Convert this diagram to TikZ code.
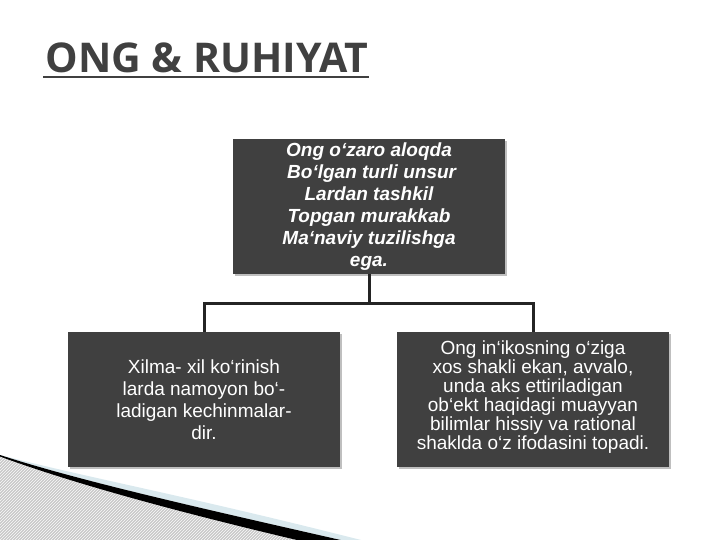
\documentclass[tikz,border=0pt]{standalone}
\usepackage{fontspec}
\setmainfont{Liberation Sans}
\newfontfamily\titlefont{Open Sans}
\usetikzlibrary{shadows,patterns,calc}

\definecolor{boxgray}{RGB}{64,64,64}
\definecolor{titlegray}{RGB}{64,64,64}
\definecolor{treegray}{RGB}{36,36,36}
\definecolor{swooshblue}{RGB}{218,233,238}
\definecolor{hatchgray}{RGB}{200,200,200}

\tikzset{every picture/.style={line width=0.75pt}}
\tikzset{
  ideabox/.style={fill=boxgray, text=white, minimum width=272, minimum height=135,
    inner sep=0pt, align=center,
    drop shadow={shadow xshift=1.5pt, shadow yshift=-2pt, opacity=0.25, fill=black}},
  treeline/.style={draw=treegray, line width=3pt, line join=miter},
}

\begin{document}
\begin{tikzpicture}[x=1pt,y=1pt,yscale=-1,xscale=1]
	\useasboundingbox (0,0) rectangle (720,540);

	%Shape: hatched corner
	\fill [hatchgray] (0,456.5) .. controls (80,486) and (200,518) .. (340,550) -- (0,550) -- cycle ;
	\fill [pattern=north east lines, pattern color=white!92!hatchgray] (0,456.5) .. controls (80,486) and (200,518) .. (340,550) -- (0,550) -- cycle ;
	%Shape: light band
	\fill [swooshblue] (20,460) .. controls (100,480) and (200,499) .. (365,541) -- (345,541) .. controls (200,508) and (80,481) .. (0,455) -- cycle ;
	%Shape: swoosh
	\fill [black] (0,455) .. controls (80,481) and (200,508) .. (345,541) -- (345,550) -- (340,550) .. controls (200,518) and (80,486) .. (0,456.5) -- cycle ;

	% Text Node
	\node [anchor=base west, inner sep=0pt, text=titlegray, font=\titlefont\bfseries\fontsize{41}{41}\selectfont] (title) at (45,73) {ONG \& RUHIYAT};
	%Straight Lines
	\draw [titlegray, line width=2.5pt] ($(title.base west)+(-2,4)$) -- ($(title.base east)+(0,4)$) ;

	% Boxes
	\node [ideabox, font=\bfseries\itshape\fontsize{19}{22}\selectfont] (top) at (369,206.5) {Ong o`zaro aloqda\\ \ Bo`lgan turli unsur\\ Lardan tashkil\\ Topgan murakkab\\ Ma`naviy tuzilishga\\ ega.};
	\node [ideabox, font=\fontsize{19}{22}\selectfont] (left) at (204,399.5) {Xilma- xil ko`rinish\\ larda namoyon bo`-\\ ladigan kechinmalar-\\ dir.};
	\node [ideabox, font=\fontsize{19}{19}\selectfont] (right) at (533,399.5) {Ong in`ikosning o`ziga\\ xos shakli ekan, avvalo,\\ unda aks ettiriladigan\\ ob`ekt haqidagi muayyan\\ bilimlar hissiy va rational\\ shaklda o`z ifodasini topadi.\\[-11pt]};

	%Straight Lines
	\coordinate (hub) at (369,303);
	\draw [treeline] (top) -- (hub) ;
	\draw [treeline] (left.north) |- (hub) -| (right.north) ;

\end{tikzpicture}
\end{document}
